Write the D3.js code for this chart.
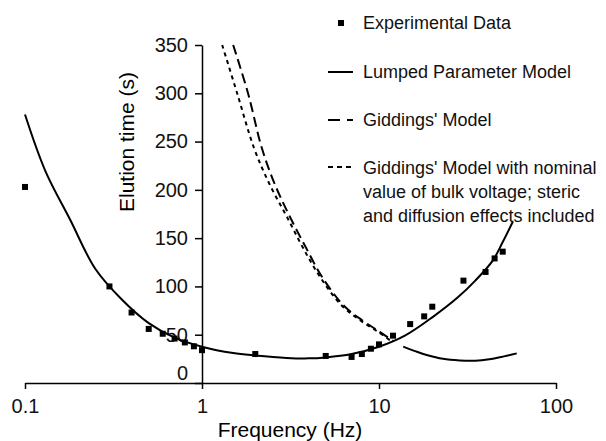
<!DOCTYPE html>
<meta charset="utf-8">
<style>
  body { margin: 0; background: #fff; }
  svg { display: block; font-family: "Liberation Sans", Arial, Helvetica, sans-serif; }
  .axis path, .axis line { stroke: #000; stroke-width: 1.5px; }
  .axis text { font-size: 20px; fill: #111; }
  .legend text { font-size: 18px; fill: #111; }
</style>
<body>
<div id="chart"></div>
<script src="https://d3js.org/d3.v7.js"></script>
<script>
  // experimental points: frequency (Hz), elution time (s)
  const expFreq = [0.1, 0.3, 0.4, 0.5, 0.6, 0.7, 0.8, 0.9, 1, 2, 5, 7, 8, 9, 10, 12, 15, 18, 20, 30, 40, 45, 50];
  const expTime = [203, 100, 73, 56, 51, 46, 42, 38, 34, 30, 28, 27, 30, 35.5, 40, 49, 61, 69, 79, 106, 115, 129, 136];

  // lumped parameter model
  const lumpFreq = [0.1, 0.13, 0.18, 0.25, 0.35, 0.5, 0.7, 1, 1.5, 2, 3, 4, 5, 7, 10, 14, 20, 28, 35, 44, 50, 57];
  const lumpTime = [278, 220, 169, 118, 87, 62, 47, 37.6, 31, 28.5, 26, 25.5, 26.5, 30, 37.5, 49, 68, 89, 106, 127, 146, 167];

  // Giddings' model (long dash)
  const gidFreq = [1.5, 1.82, 2.18, 2.59, 3.14, 3.87, 4.76, 6.26, 8.02, 10.1, 12];
  const gidTime = [350, 300, 243, 205, 172, 140, 110, 81, 65, 53, 43.5];

  // Giddings' model with nominal bulk voltage (short dash)
  const nomFreq = [1.3, 1.58, 1.97, 2.42, 3.02, 3.72, 4.64, 6.1, 7.81, 9.87, 11.7];
  const nomTime = [350, 300, 243, 205, 172, 140, 110, 81, 65, 53, 43.5];

  // solid tail past the crossing
  const tailFreq = [13.7, 16, 18.6, 23, 28.6, 35, 42, 48, 60];
  const tailTime = [37.6, 33, 29, 25, 23.3, 23, 24.5, 26.6, 30.7];

  const xTicks = [0.1, 1, 10, 100];
  const yTicks = [0, 50, 100, 150, 200, 250, 300, 350];

  const width = 606, height = 441;

  const svg = d3.select("#chart").append("svg")
    .attr("width", width)
    .attr("height", height);

  const x = d3.scaleLog().domain([0.1, 100]).range([25, 556]);
  const y = d3.scaleLinear().domain([0, 350]).range([383, 45]);

  const zip = (fs, ts) => fs.map((f, i) => [f, ts[i]]);

  const line = d3.line()
    .x(d => x(d[0]))
    .y(d => y(d[1]))
    .curve(d3.curveCatmullRom);

  // x axis
  svg.append("g")
    .attr("class", "axis")
    .attr("transform", `translate(0,${y(0)})`)
    .call(d3.axisBottom(x).tickValues(xTicks).tickFormat(d3.format("")).tickSize(6).tickSizeOuter(0).tickPadding(10));

  // y axis sits at 1 Hz
  const yAxis = svg.append("g")
    .attr("class", "axis")
    .attr("transform", `translate(${x(1)},0)`)
    .call(d3.axisLeft(y).tickValues(yTicks).tickSize(7).tickSizeOuter(0).tickPadding(7));
  yAxis.selectAll(".tick").filter(d => d === 0).select("text").attr("dy", "-0.18em");

  // axis titles
  svg.append("text")
    .attr("x", 290).attr("y", 437)
    .attr("text-anchor", "middle")
    .style("font-size", "21px")
    .text("Frequency (Hz)");

  svg.append("text")
    .attr("transform", "translate(134,142) rotate(-90)")
    .attr("text-anchor", "middle")
    .style("font-size", "21px")
    .text("Elution time (s)");

  // curves
  svg.append("path")
    .datum(zip(lumpFreq, lumpTime))
    .attr("d", line)
    .attr("fill", "none").attr("stroke", "#000").attr("stroke-width", 2);

  svg.append("path")
    .datum(zip(tailFreq, tailTime))
    .attr("d", line)
    .attr("fill", "none").attr("stroke", "#000").attr("stroke-width", 2);

  svg.append("path")
    .datum(zip(gidFreq, gidTime))
    .attr("d", line)
    .attr("fill", "none").attr("stroke", "#000").attr("stroke-width", 2)
    .attr("stroke-dasharray", "10,5");

  svg.append("path")
    .datum(zip(nomFreq, nomTime))
    .attr("d", line)
    .attr("fill", "none").attr("stroke", "#000").attr("stroke-width", 2)
    .attr("stroke-dasharray", "4,4");

  // experimental squares
  svg.selectAll("rect.pt")
    .data(zip(expFreq, expTime))
    .join("rect")
    .attr("class", "pt")
    .attr("x", d => x(d[0]) - 3)
    .attr("y", d => y(d[1]) - 3)
    .attr("width", 6).attr("height", 6)
    .attr("fill", "#000");

  // legend
  const legend = svg.append("g").attr("class", "legend");

  legend.append("rect")
    .attr("x", 338).attr("y", 20).attr("width", 6).attr("height", 6).attr("fill", "#000");
  legend.append("text").attr("x", 363).attr("y", 29).text("Experimental Data");

  legend.append("line")
    .attr("x1", 328).attr("x2", 353).attr("y1", 72).attr("y2", 72)
    .attr("stroke", "#000").attr("stroke-width", 2);
  legend.append("text").attr("x", 363).attr("y", 78).text("Lumped Parameter Model");

  legend.append("line")
    .attr("x1", 328).attr("x2", 353).attr("y1", 120).attr("y2", 120)
    .attr("stroke", "#000").attr("stroke-width", 2)
    .attr("stroke-dasharray", "12,7,6");
  legend.append("text").attr("x", 363).attr("y", 126).text("Giddings' Model");

  legend.append("line")
    .attr("x1", 328).attr("x2", 353).attr("y1", 167).attr("y2", 167)
    .attr("stroke", "#000").attr("stroke-width", 2)
    .attr("stroke-dasharray", "5,4");
  const multi = legend.append("text").attr("x", 363).attr("y", 174);
  ["Giddings' Model with nominal", "value of bulk voltage; steric", "and diffusion effects included"]
    .forEach((t, i) => {
      multi.append("tspan").attr("x", 363).attr("dy", i === 0 ? 0 : 24).text(t);
    });
</script>
</body>
</html>
